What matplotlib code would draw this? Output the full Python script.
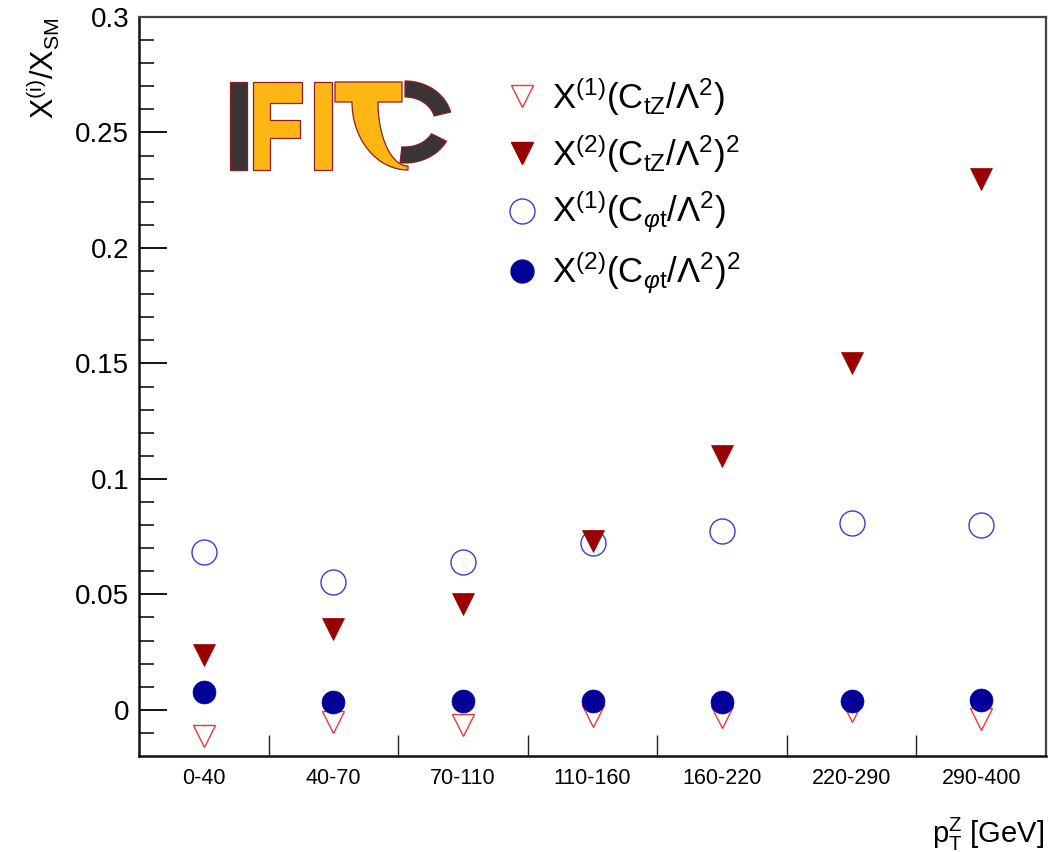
import numpy as np
import matplotlib
matplotlib.use("Agg")
import matplotlib.pyplot as plt
from matplotlib.patches import Polygon
from matplotlib.lines import Line2D

plt.rcParams['font.family'] = ['Liberation Sans', 'DejaVu Sans']
plt.rcParams['mathtext.fontset'] = 'custom'
plt.rcParams['mathtext.rm'] = 'Liberation Sans'
plt.rcParams['mathtext.it'] = 'Liberation Sans:italic'
plt.rcParams['mathtext.bf'] = 'Liberation Sans:bold'

# ---------------- data ----------------
categories = ['0-40', '40-70', '70-110', '110-160', '160-220', '220-290', '290-400']
x1_ctz = [-0.0115, -0.0054, -0.0067, -0.0028, -0.0032, -0.0006, -0.0041]
x2_ctz = [0.0238, 0.0350, 0.0460, 0.0733, 0.1098, 0.1500, 0.2298]
x1_cpt = [0.0684, 0.0555, 0.0641, 0.0722, 0.0774, 0.0808, 0.0802]
x2_cpt = [0.0077, 0.0032, 0.0036, 0.0039, 0.0033, 0.0036, 0.0043]
ytick_vals = [0, 0.05, 0.1, 0.15, 0.2, 0.25, 0.3]
ytick_labels = ['0', '0.05', '0.1', '0.15', '0.2', '0.25', '0.3']

W, H = 1051, 852
fig = plt.figure(figsize=(W / 100, H / 100), dpi=100)
L, R, T, B = 139, 1046, 17, 756
ax = fig.add_axes([L / W, 1 - B / H, (R - L) / W, (B - T) / H])

xs = np.arange(len(categories))
c_open_tri = '#e8383c'
c_fill_tri = '#990000'
c_open_circ = '#3c3cd2'
c_fill_circ = '#000099'

ax.plot(xs, x1_cpt, 'o', ms=18, mfc='none', mec=c_open_circ, mew=1.0, ls='none', zorder=3)
ax.plot(xs, x1_ctz, 'v', ms=16.5, mfc='none', mec=c_open_tri, mew=1.0, ls='none', zorder=3)
ax.plot(xs, x2_ctz, 'v', ms=16.5, mfc=c_fill_tri, mec=c_fill_tri, mew=0.5, ls='none', zorder=4)
ax.plot(xs, x2_cpt, 'o', ms=16.5, mfc=c_fill_circ, mec=c_fill_circ, mew=0.5, ls='none', zorder=5)

ax.set_xlim(-0.5, len(categories) - 0.5)
ax.set_ylim(-0.02, 0.3)

# x ticks at bin boundaries, labels at bin centres
ax.set_xticks(np.arange(0.5, len(categories) - 0.5))
ax.set_xticklabels([])
ax.set_xticks(xs, minor=True)
ax.set_xticklabels(categories, minor=True, fontsize=15.5)
ax.tick_params(axis='x', which='major', direction='in', length=15, width=1.0,
               bottom=True, top=False, color='#222222')
ax.tick_params(axis='x', which='minor', length=0, pad=9)

ax.set_yticks(ytick_vals)
ax.set_yticklabels(ytick_labels, fontsize=20)
ax.set_yticks(np.arange(-0.01, 0.3, 0.01), minor=True)
ax.tick_params(axis='y', which='major', direction='in', length=20, width=1.3,
               left=True, right=False, pad=7)
ax.tick_params(axis='y', which='minor', direction='in', length=11, width=1.1,
               left=True, right=False)

for s in ['left', 'bottom']:
    ax.spines[s].set_linewidth(1.8)
    ax.spines[s].set_color('#111111')
for s in ['top', 'right']:
    ax.spines[s].set_linewidth(1.6)
    ax.spines[s].set_color('#444444')

# axis titles
fig.text(43 / W, 1 - 17 / H, r'$\mathrm{X}^{(\mathrm{i})}/\mathrm{X}_{\mathrm{SM}}$',
         rotation=90, ha='center', va='top', fontsize=22)
fig.text(1044 / W, 1 - 843 / H, r'$\mathrm{p}_{\mathrm{T}}^{\mathrm{Z}}$ [GeV]',
         ha='right', va='baseline', fontsize=21)

# legend
handles = [
    Line2D([], [], marker='v', ms=16.5, mfc='none', mec=c_open_tri, mew=1.0, ls='none'),
    Line2D([], [], marker='v', ms=16.5, mfc=c_fill_tri, mec=c_fill_tri, ls='none'),
    Line2D([], [], marker='o', ms=18, mfc='none', mec=c_open_circ, mew=1.0, ls='none'),
    Line2D([], [], marker='o', ms=16.5, mfc=c_fill_circ, mec=c_fill_circ, ls='none'),
]
labels = [
    r'$\mathrm{X}^{(1)}(\mathrm{C}_{\mathrm{tZ}}/\Lambda^{2})$',
    r'$\mathrm{X}^{(2)}(\mathrm{C}_{\mathrm{tZ}}/\Lambda^{2})^{2}$',
    r'$\mathrm{X}^{(1)}(\mathrm{C}_{\varphi\mathrm{t}}/\Lambda^{2})$',
    r'$\mathrm{X}^{(2)}(\mathrm{C}_{\varphi\mathrm{t}}/\Lambda^{2})^{2}$',
]
leg = fig.legend(handles, labels, loc='upper left',
                 bbox_to_anchor=(505 / W, 1 - 75 / H), frameon=False,
                 fontsize=25, handlelength=1.0, handletextpad=0.35,
                 labelspacing=0.42, borderpad=0.0, borderaxespad=0.0)

# IFIC logo (decoration), drawn in pixel coordinates
lax = fig.add_axes([225 / W, 1 - 175 / H, 235 / W, 100 / H])
lax.set_xlim(225, 460)
lax.set_ylim(175, 75)
lax.axis('off')
dark = '#3b3436'
yel = '#fdb614'
edge = '#8b1e1e'
lw = 0.9
lax.add_patch(Polygon([(230, 82), (247, 82), (247, 170), (230, 170)], closed=True,
                      fc=dark, ec=edge, lw=lw))
lax.add_patch(Polygon([(253, 82), (302, 82), (302, 103), (270, 103), (270, 120),
                       (300, 120), (300, 138), (270, 138), (270, 170), (253, 170)],
                      closed=True, fc=yel, ec=edge, lw=lw))
lax.add_patch(Polygon([(314, 82), (332, 82), (332, 170), (314, 170)], closed=True,
                      fc=yel, ec=edge, lw=lw))
# T top bar + crescent stem
cx, cy = 408, 102
poly = [(335, 82), (402, 82), (402, 102), (cx - 30, 102)]
poly += [(cx + 30 * np.cos(a), cy + 64 * np.sin(a)) for a in np.linspace(np.pi, np.pi / 2, 40)]
poly += [(cx + 56 * np.cos(a), cy + 68 * np.sin(a)) for a in np.linspace(np.pi / 2, np.pi, 40)]
poly += [(335, 102)]
lax.add_patch(Polygon(poly, closed=True, fc=yel, ec=edge, lw=lw))
# dark arcs of the C
ccx, ccy = 405, 122
def ring(a0, a1):
    aa = np.linspace(a0, a1, 40)
    o = [(ccx + 47 * np.cos(a), ccy - 41 * np.sin(a)) for a in aa]
    i = [(ccx + 30 * np.cos(a), ccy - 25 * np.sin(a)) for a in aa[::-1]]
    return o + i
lax.add_patch(Polygon(ring(np.pi / 2, np.radians(14)), closed=True, fc=dark, ec=edge, lw=lw))
lax.add_patch(Polygon(ring(np.radians(-28), np.radians(-96)), closed=True, fc=dark, ec=edge, lw=lw))

fig.savefig('out.png', dpi=100, facecolor='white')
